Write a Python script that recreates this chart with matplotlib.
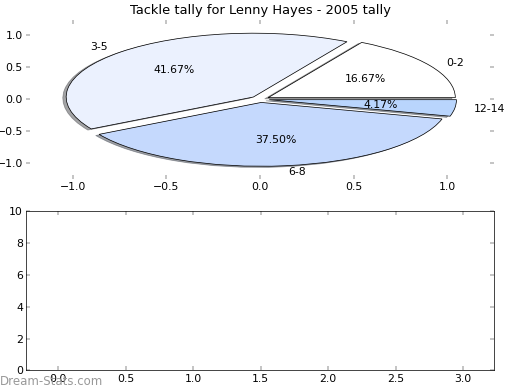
import matplotlib
matplotlib.use("Agg")
import matplotlib.pyplot as plt

labels = ['0-2', '3-5', '6-8', '12-14']
tallies = [4, 10, 9, 1]
colors = ['#FFFFFF', '#EBF1FE', '#C5D9FD', '#B9D5FD']
explode = [0.05, 0.05, 0.05, 0.05]

pie_ticks = [-1.0, -0.5, 0.0, 0.5, 1.0]
bottom_xticks = [0.0, 0.5, 1.0, 1.5, 2.0, 2.5, 3.0]
bottom_yticks = [0, 2, 4, 6, 8, 10]

plt.rcParams['xtick.direction'] = 'in'
plt.rcParams['ytick.direction'] = 'in'
plt.rcParams['xtick.top'] = True
plt.rcParams['ytick.right'] = True
plt.rcParams['xtick.major.width'] = 0.5
plt.rcParams['ytick.major.width'] = 0.5
plt.rcParams['xtick.major.size'] = 4
plt.rcParams['ytick.major.size'] = 4
plt.rcParams['xtick.labelsize'] = 12
plt.rcParams['ytick.labelsize'] = 12

fig = plt.figure(figsize=(8, 6), dpi=65)
fig.subplots_adjust(left=0.05, right=0.95, bottom=0.05, top=0.95, hspace=0.2)

ax1 = fig.add_subplot(2, 1, 1)
wedges, texts, autotexts = ax1.pie(tallies, labels=labels, colors=colors, explode=explode,
                                   autopct='%1.2f%%', shadow=True,
                                   wedgeprops={'edgecolor': 'black', 'linewidth': 0.8},
                                   textprops={'fontsize': 12})
ax1.set_aspect('auto')
ax1.set_frame_on(False)
ax1.set_xlim(-1.25, 1.25)
ax1.set_ylim(-1.25, 1.25)
ax1.set_xticks(pie_ticks)
ax1.set_yticks(pie_ticks)
ax1.set_title('Tackle tally for Lenny Hayes - 2005 tally', fontsize=14.4)

ax2 = fig.add_subplot(2, 1, 2)
ax2.set_xlim(-0.24, 3.23)
ax2.set_ylim(0, 10)
ax2.set_xticks(bottom_xticks)
ax2.set_yticks(bottom_yticks)

fig.text(0.0, 0.012, 'Dream-Stats.com', color='#999999', fontsize=13)

fig.savefig('out.png', dpi=65)
